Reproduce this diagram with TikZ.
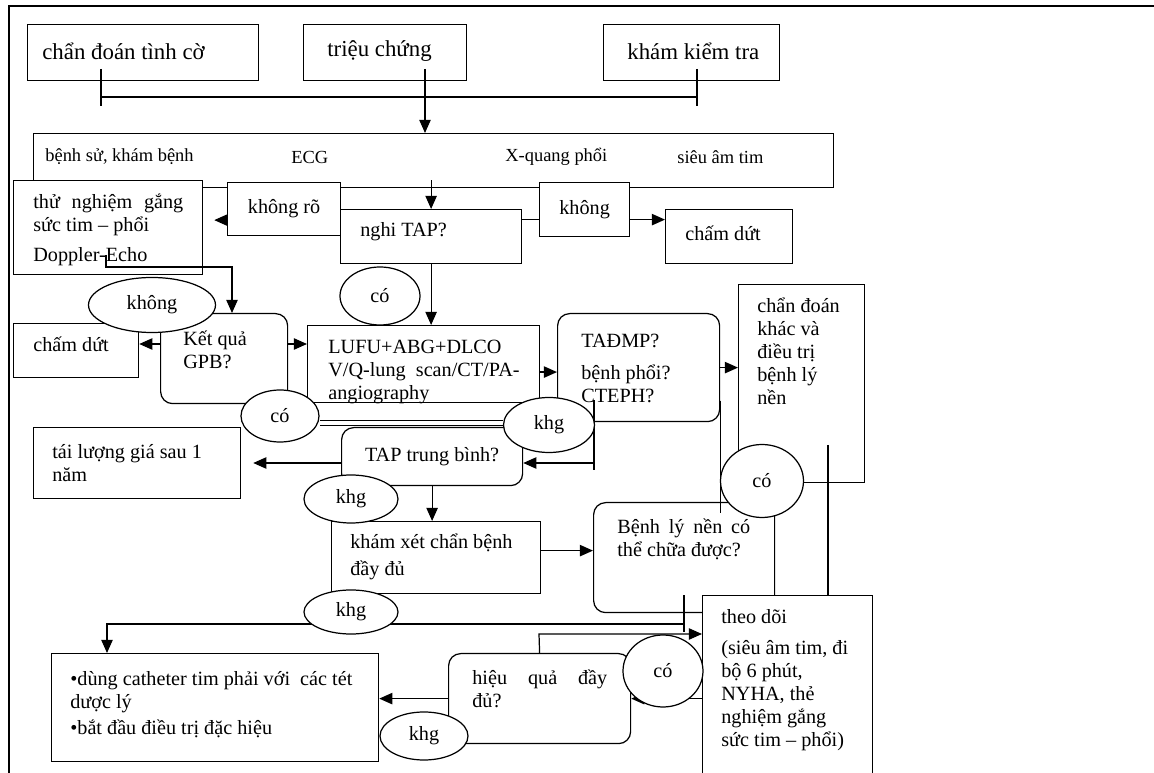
\documentclass[tikz,border=0pt]{standalone}
\usepackage{fontspec}
\setmainfont{Liberation Serif}
\usetikzlibrary{shapes.geometric, arrows.meta, positioning}
\pgfdeclarelayer{boxes}
\pgfdeclarelayer{ovals}
\pgfsetlayers{boxes,main,ovals}
\newcommand{\txtsize}{\fontsize{11.5pt}{13pt}\selectfont}
\newcommand{\rowsize}{\fontsize{10.5pt}{12pt}\selectfont}
\newcommand{\topsize}{\fontsize{13pt}{15pt}\selectfont}

\begin{document}
\begin{tikzpicture}[
        x=0.02cm, y=-0.02cm,
        % Box styles
        sz/.style 2 args={minimum width=#1*0.02cm, minimum height=#2*0.02cm},
        box/.style={rectangle, draw=black, line width=0.7pt, fill=white, inner sep=0pt, anchor=north west, font=\txtsize},
        rbox/.style={box, rounded corners=0.24cm},
        oval/.style 2 args={ellipse, draw=black, line width=0.7pt, fill=white, inner sep=0pt, minimum width=#1*0.02cm, minimum height=#2*0.02cm, font=\txtsize},
        txt/.style={inner sep=0pt, align=left, font=\txtsize},
        rowtxt/.style={inner sep=0pt, anchor=west, font=\rowsize},
        toptxt/.style={inner sep=0pt, anchor=west, font=\topsize},
        conn/.style={draw, line width=0.7pt},
        arrow/.style={conn, -{Triangle[length=7.5pt, width=6.5pt]}},
        dbl/.style={draw, double, double distance=2pt, line width=0.6pt}
    ]
    \useasboundingbox (0,0) rectangle (1154,773);

    % --- PAGE FRAME ---
    \draw[line width=0.9pt] (9,773) -- (9,6) -- (1154,6);

    % --- BOXES ---
    \begin{pgfonlayer}{boxes}
    \node (chance) [box, sz={231}{56}] at (27,24) {};
    \node (sympt)  [box, sz={163}{56}] at (303,24) {};
    \node (exam)   [box, sz={176}{56}] at (603,24) {};
    \node (hist)   [box, sz={800}{54}] at (33,133) {};
    \node (test)   [box, sz={189}{94}] at (13,180) {};
    \node (unclr)  [box, sz={113}{53}] at (227,182) {không rõ};
    \node (susp)   [box, sz={181}{54}] at (340,209) {};
    \node (no1)    [box, sz={90}{54}] at (539,182) {không};
    \node (stop1)  [box, sz={127}{54}] at (665,209) {};
    \node (stop2)  [box, sz={125}{54}] at (13,323) {};
    \node (gpb)    [rbox, sz={127}{90}] at (160,313) {};
    \node (lung)   [box, sz={232}{77}] at (307,325) {};
    \node (tad)    [rbox, sz={162}{108}] at (557,313) {};
    \node (cdk)    [box, sz={126}{198}] at (738,284) {};
    \node (tai)    [box, sz={207}{71}] at (33,427) {};
    \node (tap)    [rbox, sz={181}{58}] at (341,427) {TAP trung bình?};
    \node (kx)     [box, sz={209}{72}] at (331,521) {};
    \node (bln)    [rbox, sz={181}{110}] at (593,502) {};
    \node (td)     [box, sz={170}{200}] at (702,595) {};
    \node (cat)    [box, sz={327}{108}] at (51,653) {};
    \node (hq)     [rbox, sz={182}{90}] at (448,653) {};
    \end{pgfonlayer}

    % --- TEXTS ---
    \node (chance-t) [toptxt] at (42,51) {chẩn đoán tình cờ};
    \node (sympt-t)  [toptxt] at (327,51) {triệu chứng};
    \node (exam-t)   [toptxt] at (627,51) {khám kiểm tra};
    \node (h1) [rowtxt] at (45,157) {bệnh sử, khám bệnh};
    \node (h2) [rowtxt] at (291,157) {ECG};
    \node (h3) [rowtxt] at (505,157) {X-quang phổi};
    \node (h4) [rowtxt] at (677,157) {siêu âm tim};
    \node (test-t) [txt, anchor=north west] at (33,194) {\makebox[3cm][s]{thử nghiệm gắng}\\sức tim – phổi\\[4pt]Doppler-Echo};
    \node (susp-t)  [txt, anchor=west] at (360,232) {nghi TAP?};
    \node (stop1-t) [txt, anchor=west] at (685,233) {chấm dứt};
    \node (stop2-t) [txt, anchor=west] at (33,344) {chấm dứt};
    \node (gpb-t)  [txt, anchor=north west] at (183,331) {Kết quả\\GPB?};
    \node (lung-t) [txt, anchor=north west] at (328,340) {LUFU+ABG+DLCO\\V/Q-lung~~scan/CT/PA-\\angiography};
    \node (tad-t)  [txt, anchor=north west] at (581,334) {TAĐMP?\\[5pt]bệnh phổi?\\CTEPH?};
    \node (cdk-t)  [txt, anchor=north west] at (757,298) {chẩn đoán\\khác và\\điều trị\\bệnh lý\\nền};
    \node (tai-t)  [txt, anchor=north west] at (52,444) {tái lượng giá sau 1\\năm};
    \node (kx-t)   [txt, anchor=north west] at (350,534) {khám xét chẩn bệnh\\[2pt]đầy đủ};
    \node (bln-t)  [txt, anchor=north west] at (617,519) {\makebox[2.66cm][s]{Bệnh lý nền có}\\thể chữa được?};
    \node (td-t)   [txt, anchor=north west] at (721,609) {theo dõi\\[5pt](siêu âm tim, đi\\bộ 6 phút,\\NYHA, thẻ\\nghiệm gắng\\sức tim – phổi)};
    \node (cat-t)  [txt, anchor=north west] at (70,671) {•dùng catheter tim phải với~ các tét\\dược lý\\[2pt]•bắt đầu điều trị đặc hiệu};
    \node (hq-t)   [txt, anchor=north west] at (472,670) {\makebox[2.7cm][s]{hiệu quả đầy}\\đủ?};

    % --- OVAL LABELS ---
    \begin{pgfonlayer}{ovals}
    \node (yes1) [oval={80}{58}] at (380,296) {có};
    \node (no2)  [oval={127}{55}] at (152,305) {không};
    \node (yes2) [oval={78}{52}] at (280,416) {có};
    \node (khg1) [oval={91}{55}] at (549,425) {khg};
    \node (khg2) [oval={94}{48}] at (351,499) {khg};
    \node (yes3) [oval={83}{73}] at (762,481) {có};
    \node (khg3) [oval={94}{44}] at (351,612) {khg};
    \node (yes4) [oval={80}{72}] at (663,671) {có};
    \node (khg4) [oval={88}{48}] at (424,736) {khg};
    \end{pgfonlayer}

    % --- CONNECTORS ---
    \coordinate (brl) at (101,97);
    \coordinate (brr) at (697,97);
    \coordinate (brm) at (425,97);
    \draw[conn] (brl) -- (brr);
    \draw[conn] (brl) ++(0,-28) -- ++(0,37);
    \draw[conn] (brr) ++(0,-28) -- ++(0,37);
    \draw[arrow] (brm) ++(0,-28) -- (brm |- hist.north);

    \draw[arrow] ([yshift=0.58cm]susp.north) -- (susp.north);
    \draw[arrow, shorten >=0.22cm] ([yshift=-0.22cm]unclr.west) -- ([yshift=-0.22cm]unclr.west -| test.east);
    \draw[conn] ([yshift=0.34cm]susp.east) -- ([yshift=0.34cm]susp.east -| no1.west);
    \draw[arrow] ([yshift=-0.2cm]no1.east) -- ([yshift=-0.2cm]no1.east -| stop1.west);
    \draw[arrow] (susp.south) -- (susp.south |- lung.north);

    \coordinate (dop) at (106,255);
    \coordinate (dopr) at (232,267);
    \draw[arrow] (dop) |- (dopr) -- (dopr |- gpb.north);
    \draw[arrow] (gpb.west |- stop2-t.west) -- (stop2.east |- stop2-t.west);
    \draw[arrow] (gpb.east |- stop2-t.west) -- (lung.west |- stop2-t.west);
    \draw[arrow] (lung.east |- lung-t) -- (tad.west |- lung-t);
    \draw[arrow] (tad.east) -- (tad.east -| cdk.west);
    \draw[dbl] ([yshift=-0.14cm]yes2.east) -- ([yshift=-0.14cm]yes2.east -| khg1.west);

    \coordinate (tk) at (594,463);
    \draw[conn] ([yshift=1.26cm]tk) -- ([yshift=-0.14cm]tk);
    \draw[arrow] (tk) -- (tk -| tap.east);
    \draw[arrow, shorten >=0.24cm] (tap.west |- tk) -- (tai.east |- tk);
    \draw[arrow] (tap.south) -- (tap.south |- kx.north);
    \draw[arrow] ([yshift=0.14cm]kx.east) -- ([yshift=0.14cm]kx.east -| bln.west);
    \draw[conn] ([yshift=-0.66cm]tad.east) -- ([yshift=-0.22cm]tad.east |- bln.north);

    \coordinate (cv) at (828,445);
    \draw[conn] (cv) -- (cv |- td.north);

    \coordinate (kl) at (107,624);
    \coordinate (kr) at (684,624);
    \draw[arrow] (kr) -- (kl) -- (kl |- cat.north);
    \draw[conn] ([yshift=0.58cm]kr) -- ([yshift=-0.16cm]kr);

    \coordinate (hqt) at (539,634);
    \draw[arrow] (hq.north) -- (hqt) -- (hqt -| td.west);
    \draw[arrow] (td.west |- hq.east) -- (hq.east);
    \draw[arrow] (hq.west) -- (hq.west -| cat.east);

\end{tikzpicture}
\end{document}
